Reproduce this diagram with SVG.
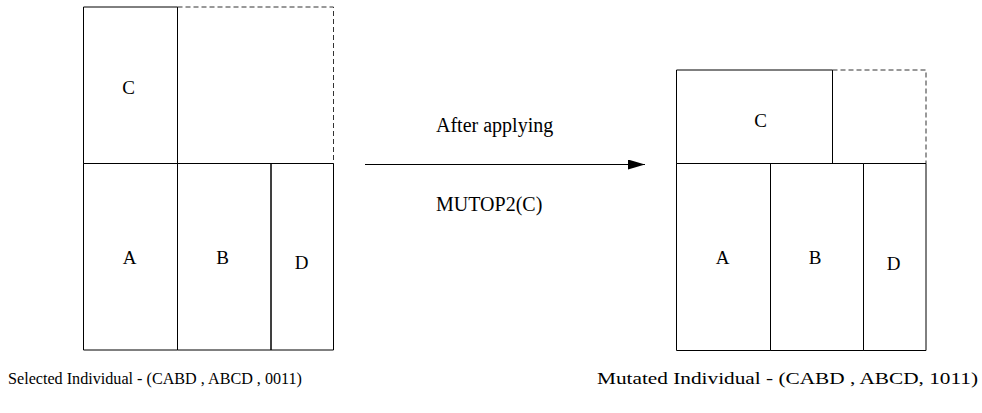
<svg xmlns="http://www.w3.org/2000/svg" width="982" height="413" viewBox="0 0 982 413">
<style>
.s{stroke:#000;stroke-width:1;fill:none}
.d{stroke:#333;stroke-width:1;fill:none;stroke-dasharray:5 3}
text{font-family:'Liberation Serif','Times New Roman','DejaVu Serif',serif;fill:#000}
.t{font-size:19px;text-anchor:middle}
.m{font-size:20px}
.b{font-size:16px}
</style>
<defs>
<marker id="ah" markerWidth="17" markerHeight="10" refX="17" refY="5" orient="auto" markerUnits="userSpaceOnUse">
<polygon points="0,0 17,5 0,10" fill="#000"/>
</marker>
</defs>
<rect width="982" height="413" fill="#fff"/>
<g id="selected">
<g id="sel-C">
<path class="s" d="M83.5 7 H177.5 V163.5 H83.5 Z"/>
<text class="t" x="128.5" y="94">C</text>
</g>
<g id="sel-empty">
<path class="d" d="M177.5 7 H333.5 V163.5"/>
</g>
<g id="sel-A">
<path class="s" d="M83.5 163.5 H177.5 V350 H83.5 Z"/>
<text class="t" x="129.5" y="264">A</text>
</g>
<g id="sel-B">
<path class="s" d="M177.5 163.5 H271 V350 H177.5 Z"/>
<text class="t" x="222.5" y="264">B</text>
</g>
<g id="sel-D">
<path class="s" d="M271 163.5 H333.5 V350 H271 Z"/>
<text class="t" x="301.7" y="269">D</text>
</g>
<text class="b" x="8" y="384" textLength="294" lengthAdjust="spacingAndGlyphs">Selected Individual - (CABD , ABCD , 0011)</text>
</g>
<g id="mutated">
<g id="mut-C">
<path class="s" d="M676.5 70 H832.5 V163.5 H676.5 Z"/>
<text class="t" x="760.5" y="126.7">C</text>
</g>
<g id="mut-empty">
<path class="d" d="M832.5 70 H926 V163.5"/>
</g>
<g id="mut-A">
<path class="s" d="M676.5 163.5 H770.5 V350.5 H676.5 Z"/>
<text class="t" x="722.5" y="264">A</text>
</g>
<g id="mut-B">
<path class="s" d="M770.5 163.5 H863.5 V350.5 H770.5 Z"/>
<text class="t" x="815" y="264">B</text>
</g>
<g id="mut-D">
<path class="s" d="M863.5 163.5 H926 V350.5 H863.5 Z"/>
<text class="t" x="893.7" y="269.5">D</text>
</g>
<text class="b" x="597" y="384" textLength="381" lengthAdjust="spacingAndGlyphs">Mutated Individual - (CABD , ABCD, 1011)</text>
</g>
<g id="connectors">
<line class="s" x1="365" y1="164.5" x2="645" y2="164.5" marker-end="url(#ah)"/>
<text class="m" x="436" y="131.5">After applying</text>
<text class="m" x="436" y="211">MUTOP2(C)</text>
</g>
</svg>
